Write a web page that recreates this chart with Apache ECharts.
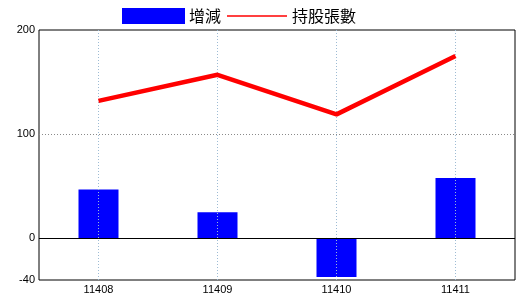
<!DOCTYPE html>
<html>
<head>
<meta charset="utf-8">
<script src="https://cdn.jsdelivr.net/npm/echarts@6/dist/echarts.min.js"></script>
<style>html,body{margin:0;padding:0;background:#fff;}#c{width:520px;height:300px;}</style>
</head>
<body>
<div id="c"></div>
<script>
const categories = ['11408', '11409', '11410', '11411'];
const changeValues = [47, 25, -37, 58];
const holdingValues = [132, 157, 119, 175];
const yTickLabels = [-40, 0, 100, 200];
const seriesNames = ['增減', '持股張數'];

const chart = echarts.init(document.getElementById('c'), null, { renderer: 'canvas' });
const numFont = 'Liberation Sans';
const cjkFont = 'Noto Sans CJK TC';

chart.setOption({
  animation: false,
  backgroundColor: '#fff',
  grid: { left: 39, right: 5, top: 30, bottom: 20, show: true, borderColor: '#000', borderWidth: 1, backgroundColor: 'transparent' },
  xAxis: {
    type: 'category',
    data: categories,
    boundaryGap: true,
    axisLine: { show: false },
    axisTick: { show: false },
    splitLine: { show: false },
    axisLabel: { color: '#000', fontSize: 11, fontFamily: numFont, margin: 4 }
  },
  yAxis: {
    type: 'value',
    min: -40,
    max: 200,
    interval: 20,
    axisLine: { show: false },
    axisTick: { show: false },
    splitLine: { show: false },
    axisLabel: {
      color: '#000', fontSize: 11, fontFamily: numFont, margin: 4,
      formatter: v => yTickLabels.indexOf(v) >= 0 ? String(v) : ''
    }
  },
  graphic: [
    { type: 'rect', shape: { x: 122, y: 8, width: 63, height: 16 }, style: { fill: '#0000ff' } },
    { type: 'text', x: 189, y: 16, style: { text: seriesNames[0], fontSize: 16, fontFamily: cjkFont, fill: '#000', verticalAlign: 'middle' } },
    { type: 'line', shape: { x1: 227, y1: 16, x2: 287, y2: 16 }, style: { stroke: '#ff0000', lineWidth: 1.5 } },
    { type: 'text', x: 292, y: 16, style: { text: seriesNames[1], fontSize: 16, fontFamily: cjkFont, fill: '#000', verticalAlign: 'middle' } }
  ],
  series: [
    {
      name: seriesNames[0],
      type: 'bar',
      data: changeValues,
      barWidth: 40,
      itemStyle: { color: '#0000ff' },
      z: 3,
      markLine: {
        silent: true,
        symbol: 'none',
        label: { show: false },
        animation: false,
        data: categories.map(c => ({ xAxis: c, lineStyle: { color: '#9dbbd4', type: [1, 2], width: 1 } }))
          .concat([
            { yAxis: 100, lineStyle: { color: '#8a8a8a', type: [1, 2], width: 1 } }
          ])
      }
    },
    {
      name: seriesNames[1],
      type: 'line',
      data: holdingValues,
      showSymbol: false,
      symbol: 'none',
      lineStyle: { color: '#ff0000', width: 4.5 },
      itemStyle: { color: '#ff0000' },
      z: 5,
      markLine: {
        silent: true,
        symbol: 'none',
        label: { show: false },
        animation: false,
        data: [{ yAxis: 0, lineStyle: { color: '#000', type: 'solid', width: 1 } }]
      }
    }
  ]
});
</script>
</body>
</html>
